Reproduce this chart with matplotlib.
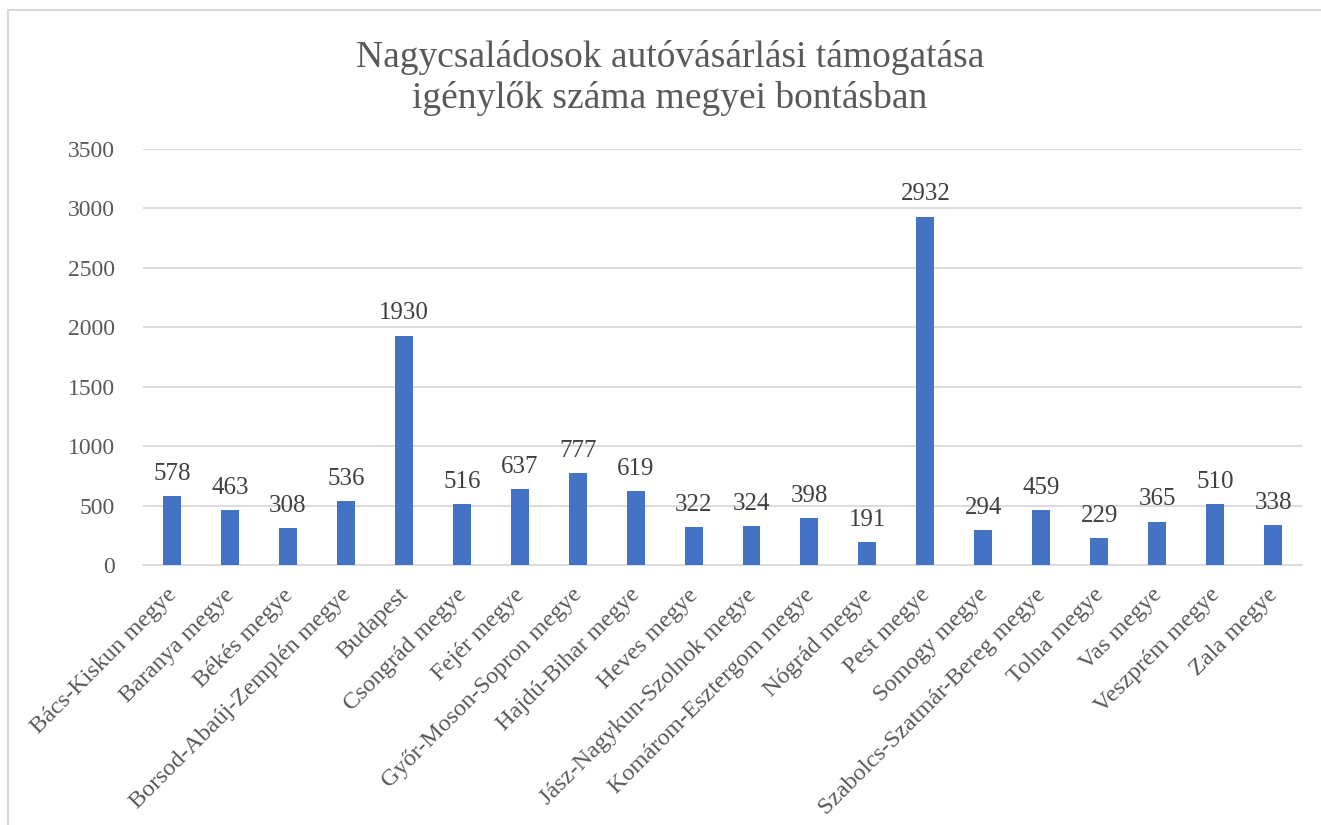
import matplotlib.pyplot as plt
import matplotlib.transforms as mtransforms
from matplotlib.patches import Rectangle
import numpy as np

counties = [
    'Bács-Kiskun megye', 'Baranya megye', 'Békés megye',
    'Borsod-Abaúj-Zemplén megye', 'Budapest', 'Csongrád megye',
    'Fejér megye', 'Győr-Moson-Sopron megye', 'Hajdú-Bihar megye',
    'Heves megye', 'Jász-Nagykun-Szolnok megye', 'Komárom-Esztergom megye',
    'Nógrád megye', 'Pest megye', 'Somogy megye',
    'Szabolcs-Szatmár-Bereg megye', 'Tolna megye', 'Vas megye',
    'Veszprém megye', 'Zala megye',
]
applicants = [578, 463, 308, 536, 1930, 516, 637, 777, 619, 322,
              324, 398, 191, 2932, 294, 459, 229, 365, 510, 338]
yticks = [0, 500, 1000, 1500, 2000, 2500, 3000, 3500]

title = 'Nagycsaládosok autóvásárlási támogatása\nigénylők száma megyei bontásban'

plt.rcParams['font.family'] = ['Liberation Serif', 'DejaVu Serif']
text_col = '#595959'
bar_col = '#4472C4'
grid_col = '#D9D9D9'

fig = plt.figure(figsize=(13.21, 8.25), dpi=100)
ax = fig.add_axes([0.1083, 0.3152, 0.8773, 0.5042])

# chart frame, cut off at right and bottom like the screenshot
fig.patches.append(Rectangle(
    (8 / 1321, -0.1), 1.2, 0.1 + (825 - 10) / 825,
    transform=fig.transFigure, fill=False, edgecolor='#D9D9D9', lw=1.5,
))

x = np.arange(len(counties))
bars = ax.bar(x, applicants, width=0.31, color=bar_col, zorder=3)

for rect, val in zip(bars, applicants):
    ax.annotate(
        str(val),
        xy=(rect.get_x() + rect.get_width() / 2, rect.get_height()),
        xytext=(0, 8), textcoords='offset points',
        ha='center', va='bottom', fontsize=18, color='#404040',
    )

ax.set_xlim(-0.5, len(counties) - 0.5)
ax.set_ylim(0, 3500)
ax.set_yticks(yticks)
ax.set_yticklabels([str(t) for t in yticks])
ax.set_xticks(x)
ax.set_xticklabels(counties, rotation=45, ha='right', rotation_mode='anchor')

ax.tick_params(axis='y', length=0, pad=20, labelsize=17, labelcolor=text_col)
ax.tick_params(axis='x', length=0, pad=14, labelsize=17.5, labelcolor=text_col)

# nudge rotated labels a bit to the left
shift = mtransforms.ScaledTranslation(-6 / 100, 0, fig.dpi_scale_trans)
for lbl in ax.get_xticklabels():
    lbl.set_transform(lbl.get_transform() + shift)

ax.grid(axis='y', color=grid_col, lw=1.3, zorder=0)
for side in ['top', 'right', 'left']:
    ax.spines[side].set_visible(False)
ax.spines['bottom'].set_color(grid_col)
ax.spines['bottom'].set_linewidth(1.3)

fig.text(670 / 1321, 1 - 78 / 825, title, ha='center', va='center',
         fontsize=27, color=text_col, linespacing=1.2)

fig.savefig('out.png', dpi=100)
